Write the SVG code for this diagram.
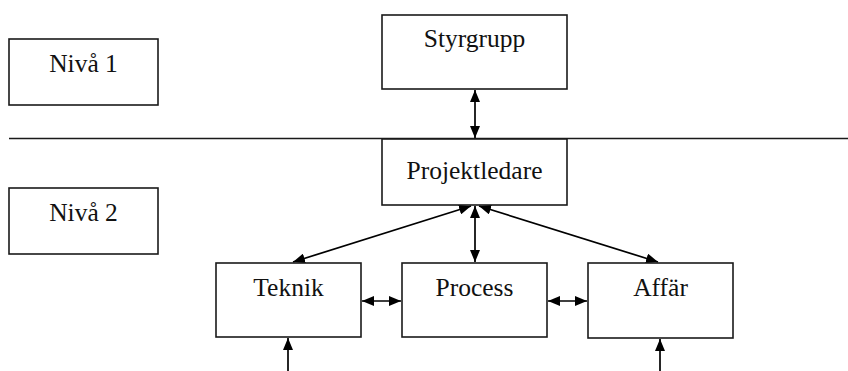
<svg xmlns="http://www.w3.org/2000/svg" width="848" height="371" viewBox="0 0 848 371">
  <style>
    .box { fill: #ffffff; stroke: #1a1a1a; stroke-width: 1.6; }
    .lbl { font-family: "Liberation Serif", "Times New Roman", serif; font-size: 25.5px; fill: #111111; text-anchor: middle; }
    .conn { stroke: #000000; stroke-width: 1.7; fill: none; }
    .divider { stroke: #1a1a1a; stroke-width: 1.7; }
  </style>
  <defs>
    <marker id="head" viewBox="0 0 12 10" markerWidth="12" markerHeight="10" refX="12" refY="5" orient="auto-start-reverse" markerUnits="userSpaceOnUse">
      <path d="M0,0 L12,5 L0,10 z" fill="#000000"/>
    </marker>
  </defs>

  <rect width="848" height="371" fill="#ffffff"/>

  <!-- level divider -->
  <line class="divider" x1="9" y1="138.5" x2="848" y2="138.5"/>

  <!-- connectors -->
  <g id="connectors">
    <line class="conn" x1="475" y1="90" x2="475" y2="138" marker-start="url(#head)" marker-end="url(#head)"/>
    <line class="conn" x1="475" y1="206" x2="475" y2="262" marker-start="url(#head)" marker-end="url(#head)"/>
    <line class="conn" x1="471" y1="206" x2="293" y2="262" marker-start="url(#head)" marker-end="url(#head)"/>
    <line class="conn" x1="479" y1="206" x2="658" y2="262" marker-start="url(#head)" marker-end="url(#head)"/>
    <line class="conn" x1="362" y1="301" x2="401" y2="301" marker-start="url(#head)" marker-end="url(#head)"/>
    <line class="conn" x1="548" y1="301" x2="587" y2="301" marker-start="url(#head)" marker-end="url(#head)"/>
    <line class="conn" x1="288" y1="371" x2="288" y2="338" marker-end="url(#head)"/>
    <line class="conn" x1="660" y1="371" x2="660" y2="339" marker-end="url(#head)"/>
  </g>

  <g id="niva1">
    <rect class="box" x="9" y="39" width="149" height="66"/>
    <text class="lbl" x="83.5" y="72">Nivå 1</text>
  </g>
  <g id="niva2">
    <rect class="box" x="9" y="188" width="149" height="66"/>
    <text class="lbl" x="83.5" y="221">Nivå 2</text>
  </g>
  <g id="styrgrupp">
    <rect class="box" x="382" y="15" width="185" height="74"/>
    <text class="lbl" x="474.5" y="47">Styrgrupp</text>
  </g>
  <g id="projektledare">
    <rect class="box" x="382" y="139" width="185" height="66"/>
    <text class="lbl" x="474.5" y="179">Projektledare</text>
  </g>
  <g id="teknik">
    <rect class="box" x="216" y="263" width="145" height="74"/>
    <text class="lbl" x="288.5" y="296">Teknik</text>
  </g>
  <g id="process">
    <rect class="box" x="402" y="263" width="145" height="74"/>
    <text class="lbl" x="474.5" y="296">Process</text>
  </g>
  <g id="affar">
    <rect class="box" x="588" y="263" width="145" height="75"/>
    <text class="lbl" x="660.5" y="296">Affär</text>
  </g>
</svg>
